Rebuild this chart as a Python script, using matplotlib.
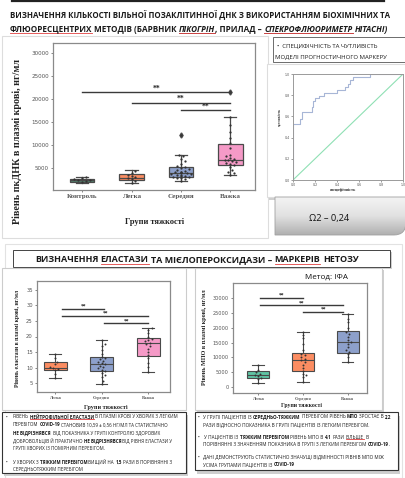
import numpy as np
import matplotlib
matplotlib.use("Agg")
import matplotlib.pyplot as plt
from matplotlib.patches import Rectangle, PathPatch
from matplotlib.path import Path
from matplotlib.colors import LinearSegmentedColormap

# ---------------- data ----------------
dna_groups = ["Контроль", "Легка", "Середня", "Важка"]
dna_q1 = [2100, 2400, 3200, 5800]
dna_med = [2400, 3000, 4000, 6900]
dna_q3 = [2700, 3800, 5300, 10300]
dna_lo = [1900, 1700, 2200, 3600]
dna_hi = [3100, 4600, 8000, 16200]
dna_fliers = [[], [], [12200], [21500]]
dna_points = [
    [1950, 2200, 2350, 2450, 2600, 2800, 3050],
    [1750, 2300, 2600, 2900, 3100, 3300, 3600, 4000, 4500],
    [2300, 2600, 2800, 3000, 3100, 3200, 3300, 3400, 3500, 3600, 3700, 3800, 3900, 4000,
     4100, 4200, 4300, 4500, 4700, 4900, 5100, 5300, 5600, 6000, 6500, 7000, 7600, 8000, 12200],
    [3600, 3900, 4200, 4600, 5200, 5700, 5900, 6100, 6300, 6500, 6700, 6900, 7100, 7300,
     7600, 8000, 9500, 10500, 11500, 13000, 14500, 16200, 21500],
]
dna_sig = [(0, 3, 21500), (1, 3, 19300), (2, 3, 17600)]
dna_yticks = [5000, 10000, 15000, 20000, 25000, 30000]

roc_fpr = [0, 0, 0.06, 0.06, 0.08, 0.08, 0.17, 0.17, 0.18, 0.18, 0.20, 0.20, 0.24, 0.24, 0.28,
           0.28, 0.40, 0.40, 0.47, 0.47, 0.50, 0.50, 0.52, 0.52, 0.55, 0.55, 0.70, 0.70, 1.0]
roc_tpr = [0, 0.53, 0.53, 0.58, 0.58, 0.64, 0.64, 0.69, 0.69, 0.75, 0.75, 0.77, 0.77, 0.79, 0.79,
           0.82, 0.82, 0.85, 0.85, 0.88, 0.88, 0.91, 0.91, 0.94, 0.94, 0.97, 0.97, 1.0, 1.0]
roc_ticks = [0.0, 0.2, 0.4, 0.6, 0.8, 1.0]

sev_groups = ["Легка", "Середня", "Важка"]
ela_q1 = [9.3, 8.9, 13.8]
ela_med = [10.0, 11.2, 17.9]
ela_q3 = [11.8, 13.3, 19.4]
ela_lo = [6.5, 4.6, 8.5]
ela_hi = [14.4, 19.0, 22.6]
ela_fliers = [[], [], []]
ela_points = [
    [6.5, 8.0, 9.2, 9.6, 10.0, 10.3, 11.0, 11.8, 13.0, 14.2],
    [4.6, 5.5, 6.8, 7.5, 8.2, 8.9, 9.3, 9.8, 10.2, 10.6, 11.0, 11.4, 11.8, 12.2, 12.6, 13.0,
     13.5, 14.5, 15.5, 16.8, 17.5, 19.0],
    [8.5, 10.2, 11.5, 13.0, 14.0, 15.0, 16.0, 16.8, 17.5, 17.9, 18.4, 18.9, 19.3, 20.0, 21.0,
     22.0, 22.6],
]
ela_sig = [(0.15, 1.05, 28.9), (0.15, 2.0, 26.6), (1.05, 2.0, 24.3)]
ela_yticks = [5, 10, 15, 20, 25, 30, 35]

mpo_q1 = [3100, 5500, 11600]
mpo_med = [4000, 9000, 15200]
mpo_q3 = [5500, 11500, 18800]
mpo_lo = [1300, 1600, 8300]
mpo_hi = [7400, 18500, 24600]
mpo_fliers = [[], [], []]
mpo_points = [
    [1300, 2600, 3200, 3600, 4000, 4400, 5000, 5800, 7300],
    [1600, 3500, 4000, 4500, 5500, 6500, 7500, 8300, 9000, 9600, 10200, 10800, 11300, 12500,
     14500, 16500, 17500, 18500],
    [8300, 10000, 11000, 11800, 12500, 13500, 14500, 15200, 16000, 17000, 17800, 18500, 20000,
     22000, 23000, 24600],
]
mpo_sig = [(0.05, 1.0, 30000), (0.05, 1.9, 27600), (1.0, 1.9, 25400)]
mpo_yticks = [0, 5000, 10000, 15000, 20000, 25000, 30000]

# ---------------- texts ----------------
title1 = [("ВИЗНАЧЕННЯ КІЛЬКОСТІ ВІЛЬНОЇ ПОЗАКЛІТИННОЇ ДНК З ВИКОРИСТАННЯМ БІОХІМІЧНИХ ТА", "b")]
title2 = [("ФЛЮОРЕСЦЕНТРИХ", "br"), (" МЕТОДІВ (БАРВНИК ", "b"), ("ПІКОГРІН", "biur"),
          (", ПРИЛАД – ", "b"), ("СПЕКРОФЛЮОРИМЕТР", "biur"), (" HITACHI)", "bi")]
header2 = [("ВИЗНАЧЕННЯ ", "b"), ("ЕЛАСТАЗИ", "br"), (" ТА МІЄЛОПЕРОКСИДАЗИ – ", "b"),
           ("МАРКЕРІВ", "br"), (" НЕТОЗУ", "b")]
spec1 = [("•  СПЕЦИФІЧНІСТЬ ТА ЧУТЛИВІСТЬ", "")]
spec2 = [("МОДЕЛІ ПРОГНОСТИЧНОГО МАРКЕРУ", "")]
omega_text = "Ω2 – 0,24"
method_text = "Метод: ІФА"

left_lines = [
    [("РІВЕНЬ ", ""), ("НЕЙТРОФІЛЬНОЇ ЕЛАСТАЗИ", "br"), (" В ПЛАЗМІ КРОВІ У ХВОРИХ З ЛЕГКИМ", "")],
    [("ПЕРЕБІГОМ ", ""), ("COVID-19", "b"), (" СТАНОВИВ 10,59 ± 0,56 НГ/МЛ ТА СТАТИСТИЧНО", "")],
    [("НЕ ВІДРІЗНЯВСЯ", "b"), ("  ВІД ПОКАЗНИКА У ГРУПІ КОНТРОЛЮ ЗДОРОВИХ", "")],
    [("ДОБРОВОЛЬЦІВ Й ПРАКТИЧНО ", ""), ("НЕ ВІДРІЗНЯВСЯ", "b"), (" ВІД РІВНЯ ЕЛАСТАЗИ У", "")],
    [("ГРУПІ ХВОРИХ ІЗ ПОМІРНИМ ПЕРЕБІГОМ.", "")],
    [("У ХВОРИХ З ", ""), ("ТЯЖКИМ ПЕРЕБІГОМ", "b"), (" ВИЩИЙ НА ", ""), ("1,5", "b"),
     (" РАЗИ В ПОРІВНЯННІ З", "")],
    [("СЕРЕДНЬОТЯЖКИМ ПЕРЕБІГОМ", "")],
]
left_y = [417, 425, 433, 441, 449, 462, 469.5]
left_bullets = [0, 5]

right_lines = [
    [("У ГРУПІ ПАЦІЄНТІВ ІЗ ", ""), ("СЕРЕДНЬО-ТЯЖКИМ", "b"), (" ПЕРЕБІГОМ РІВЕНЬ ", ""), ("МПО", "b"),
     (" ЗРОСТАЄ В ", ""), ("2,2", "b")],
    [("РАЗИ ВІДНОСНО ПОКАЗНИКА В ГРУПІ ПАЦІЄНТІВ ІЗ ЛЕГКИМ ПЕРЕБІГОМ.", "")],
    [(" У ПАЦІЄНТІВ ІЗ ", ""), ("ТЯЖКИМ ПЕРЕБІГОМ", "b"), (" РІВЕНЬ МПО В ", ""), ("4,1", "b"),
     (" РАЗИ ", ""), ("БІЛЬШЕ", "r"), (" В", "")],
    [("ПОРІВНЯННІ З ЗНАЧЕННЯМ ПОКАЗНИКА В ГРУПІ З ЛЕГКИМ ПЕРЕБІГОМ ", ""), ("COVID-19", "b"), (".", "")],
    [("ДАНІ ДЕМОНСТРУЮТЬ СТАТИСТИЧНО ЗНАЧУЩІ ВІДМІННОСТІ РІВНІВ МПО МІЖ", "")],
    [("УСІМА ГРУПАМИ ПАЦІЄНТІВ ІЗ ", ""), ("COVID-19", "b")],
]
right_y = [417, 425.5, 437.5, 445, 457.5, 465]
right_bullets = [0, 2, 4]

# ---------------- style ----------------
dna_colors = ["#52806c", "#fc8d62", "#8da0cb", "#f59ac7"]
ela_colors = ["#fc8d62", "#8da0cb", "#f59ac7"]
mpo_colors = ["#5fc3a3", "#fc8d62", "#8da0cb"]
EDGE = "#4a4a4a"
SANS = ["Open Sans", "DejaVu Sans"]
SERIF = ["Liberation Serif", "DejaVu Serif"]
TXT = "#1a1a1a"

W, H = 406, 478
fig = plt.figure(figsize=(W / 100, H / 100), dpi=100)
fig.patch.set_facecolor("white")
R = fig.canvas.get_renderer()


def rect(x0, y0, x1, y1):
    return [x0 / W, 1 - y1 / H, (x1 - x0) / W, (y1 - y0) / H]


bg = fig.add_axes([0, 0, 1, 1])
bg.set_zorder(-5)
fg = fig.add_axes([0, 0, 1, 1])
fg.set_zorder(10)
for a in (bg, fg):
    a.set_xlim(0, W)
    a.set_ylim(H, 0)
    a.axis("off")


def _w(txt, size, weight="normal", style="normal", family=SANS):
    a = fg.text(0, 0, "|" + txt + "|", fontsize=size, fontweight=weight, fontstyle=style, family=family)
    b = fg.text(0, 0, "||", fontsize=size, fontweight=weight, fontstyle=style, family=family)
    w = a.get_window_extent(R).width - b.get_window_extent(R).width
    a.remove()
    b.remove()
    return w


def _props(f):
    return ("bold" if "b" in f else "normal", "italic" if "i" in f else "normal")


def runs_width(runs, size, family=SANS):
    return sum(_w(t, size, *_props(f), family=family) for t, f in runs)


def fit(runs, target, family=SANS):
    return 10 * target / runs_width(runs, 10, family)


def draw_runs(x, y, runs, size, family=SANS, color=TXT, va="baseline"):
    for t, f in runs:
        wt, st = _props(f)
        core = t.strip(" ")
        if not core:
            x += _w(t, size, wt, st, family)
            continue
        lead = len(t) - len(t.lstrip(" "))
        trail = len(t) - len(t.rstrip(" "))
        if lead:
            x += _w(" " * lead, size, wt, st, family)
        fg.text(x, y, core, fontsize=size, fontweight=wt, fontstyle=st, family=family,
                color=color, ha="left", va=va)
        cw = _w(core, size, wt, st, family)
        if "u" in f:
            fg.plot([x, x + cw], [y + 1.0, y + 1.0], color=color, lw=0.5)
        if "r" in f:
            fg.plot([x, x + cw], [y + 1.8, y + 1.8], color="#e04040", lw=0.6)
        x += cw
        if trail:
            x += _w(" " * trail, size, wt, st, family)
    return x


def box(x0, y0, x1, y1, ec="#cccccc", fc="white", lw=0.8, shadow=None, z=1):
    if shadow is not None:
        bg.add_patch(Rectangle((x0 + shadow[0], y0 + shadow[1]), x1 - x0, y1 - y0,
                               fc="#cfcfcf", ec="none", zorder=z))
    bg.add_patch(Rectangle((x0, y0), x1 - x0, y1 - y0, fc=fc, ec=ec, lw=lw, zorder=z + 0.1))


def swarm(ax, pos, vals, d=2.3, maxw=12):
    t = ax.transData
    p0 = t.transform((0, 0))
    p1 = t.transform((1, 1))
    sx, sy = p1[0] - p0[0], p1[1] - p0[1]
    vals = np.asarray(vals, float)
    xs = np.zeros(len(vals))
    placed = []
    for i in np.argsort(vals):
        ypx = vals[i] * sy
        best = None
        for k in range(80):
            off = ((k + 1) // 2) * (1 if k % 2 else -1) * d * 0.6
            if abs(off) > maxw:
                break
            if all((off - px) ** 2 + (ypx - py) ** 2 >= d * d for px, py in placed):
                best = off
                break
        if best is None:
            best = 0.0
        placed.append((best, ypx))
        xs[i] = pos + best / sx
    return xs


def box_chart(r, groups, q1, med, q3, lo, hi, fliers, points, sig, colors, xlim, ylim, yticks,
              cat_fs, y_fs, sig_fs, lw=0.8, msz=2.2, d=2.3, maxw=10):
    ax = fig.add_axes(rect(*r))
    stats = [dict(q1=a, med=m, q3=b, whislo=l, whishi=h, fliers=f, label=g)
             for a, m, b, l, h, f, g in zip(q1, med, q3, lo, hi, fliers, groups)]
    bp = ax.bxp(stats, positions=np.arange(len(groups)), widths=0.5, capwidths=0.25,
                patch_artist=True, showfliers=True,
                boxprops=dict(edgecolor=EDGE, linewidth=lw),
                medianprops=dict(color=EDGE, linewidth=lw),
                whiskerprops=dict(color=EDGE, linewidth=lw),
                capprops=dict(color=EDGE, linewidth=lw),
                flierprops=dict(marker="d", markersize=2.6, markerfacecolor=EDGE, markeredgecolor=EDGE))
    for p, c in zip(bp["boxes"], colors):
        p.set_facecolor(c)
    ax.set_xlim(*xlim)
    ax.set_ylim(*ylim)
    for i, vals in enumerate(points):
        ax.scatter(swarm(ax, i, vals, d, maxw), vals, s=msz, color="#333333", linewidths=0, zorder=4)
    for a, b, y in sig:
        ax.plot([a, b], [y, y], color="#3a3a3a", lw=1.0, zorder=5)
        ax.text((a + b) / 2, y, "**", ha="center", va="bottom", fontsize=sig_fs,
                fontweight="bold", family=SERIF, color="#222222")
    ax.set_xticks(np.arange(len(groups)))
    ax.set_xticklabels(groups, fontsize=cat_fs, fontweight="bold", family=SERIF, color="#222222")
    ax.set_yticks(yticks)
    ax.set_yticklabels([str(v) for v in yticks], fontsize=y_fs, family="DejaVu Sans", color="#333333")
    ax.tick_params(length=1.5, width=0.5, pad=1.5, colors="#555555")
    for s in ax.spines.values():
        s.set_color("#8a8a8a")
        s.set_linewidth(0.9)
    return ax


# ---------------- background panels ----------------
fg.plot([12, 384], [0.8, 0.8], color="#222222", lw=1.6)
box(2, 36, 268, 238, ec="#dddddd")
box(273, 37, 406, 62, ec="#555555", lw=0.6)
box(267, 64, 406, 197, ec="#dddddd", shadow=(-3, 3))
# Omega box with gradient (square left, rounded bottom-right corner)
verts = [(275, 197), (406, 197), (406, 222), (406, 235), (394, 235), (275, 235), (275, 197)]
codes = [Path.MOVETO, Path.LINETO, Path.LINETO, Path.CURVE3, Path.CURVE3, Path.LINETO, Path.CLOSEPOLY]
om = PathPatch(Path(verts, codes), fc="none", ec="#a0a0a0", lw=0.6, zorder=3)
bg.add_patch(om)
grad = np.linspace(0, 1, 100)[:, None]
cm = LinearSegmentedColormap.from_list("g", ["#f4f4f4", "#e2e2e2", "#b0b0b0"])
im = bg.imshow(grad, extent=[275, 406, 235, 197], aspect="auto", cmap=cm, zorder=2)
im.set_clip_path(om)
bg.set_xlim(0, W)
bg.set_ylim(H, 0)

box(5, 244, 402, 478, ec="#e2e2e2")
box(13, 250, 390, 267, ec="#444444", lw=0.7, shadow=(2, 2), z=2)
box(2, 268, 186, 410, ec="#cccccc", z=2)
box(195, 268, 382, 410, ec="#cccccc", shadow=(2, 2), z=2)
box(2, 412, 186, 473, ec="#333333", lw=0.8, shadow=(2, 3), z=2)
box(195, 412, 398, 470, ec="#333333", lw=0.8, shadow=(2, 4), z=2)

# ---------------- titles ----------------
s1 = fit(title1, 378)
draw_runs(10, 18.3, title1, s1)
s2 = fit(title2, 377)
draw_runs(10, 31.5, title2, s2)
sh = fit(header2, 328)
draw_runs(35, 262.5, header2, sh)
ss = fit(spec2, 112)
draw_runs(277, 46.5, spec1, ss, va="center")
draw_runs(275, 57, spec2, ss, va="center")

# ---------------- main DNA chart ----------------
box_chart((53, 43, 255, 190), dna_groups, dna_q1, dna_med, dna_q3, dna_lo, dna_hi, dna_fliers,
          dna_points, dna_sig, dna_colors, (-0.59, 3.5), (283, 32240), dna_yticks,
          cat_fs=5.0, y_fs=4.1, sig_fs=5.5, lw=0.9, msz=2.6, d=3.2, maxw=11)
lab = "Рівень пкДНК в плазмі крові, нг/мл"
fs = 10 * 165 / _w(lab, 10, "bold", family=SERIF)
fg.text(17, 142, lab, rotation=90, ha="center", va="center", fontsize=fs, fontweight="bold",
        family=SERIF, color="#222222")
lab = "Групи тяжкості"
fs = 10 * 59 / _w(lab, 10, "bold", family=SERIF)
fg.text(155, 222, lab, ha="center", va="center", fontsize=fs, fontweight="bold", family=SERIF,
        color="#222222")

# ---------------- ROC ----------------
rax = fig.add_axes(rect(293, 74, 403, 180))
rax.plot(roc_fpr, roc_tpr, color="#a7b6d6", lw=0.8)
rax.plot([0, 1], [0, 1], color="#8fe0b4", lw=0.8)
rax.set_xlim(0, 1)
rax.set_ylim(0, 1)
rax.set_xticks(roc_ticks)
rax.set_yticks(roc_ticks)
rax.set_xticklabels([f"{v:.1f}" for v in roc_ticks], fontsize=2.3, family="DejaVu Sans")
rax.set_yticklabels([f"{v:.1f}" for v in roc_ticks], fontsize=2.3, family="DejaVu Sans")
rax.tick_params(length=1.2, width=0.4, pad=1, colors="#555555")
for s in rax.spines.values():
    s.set_color("#9a9a9a")
    s.set_linewidth(0.7)
lab = "чутливість"
fs = 10 * 18 / _w(lab, 10, "bold", family=SERIF)
fg.text(280, 117, lab, rotation=90, ha="center", va="center", fontsize=fs, fontweight="bold",
        family=SERIF, color="#333333")
lab = "специфічність"
fs = 10 * 27 / _w(lab, 10, "bold", family=SERIF)
fg.text(343, 190.5, lab, ha="center", va="center", fontsize=fs, fontweight="bold", family=SERIF,
        color="#333333")
fs = 10 * 40 / _w(omega_text, 10)
fg.text(329, 218, omega_text, ha="center", va="center", fontsize=fs, family=SANS, color="#111111")

# ---------------- elastase chart ----------------
box_chart((37, 281, 170, 392), sev_groups, ela_q1, ela_med, ela_q3, ela_lo, ela_hi, ela_fliers,
          ela_points, ela_sig, ela_colors, (-0.39, 2.47), (2.1, 37.9), ela_yticks,
          cat_fs=3.2, y_fs=3.8, sig_fs=4.0, lw=0.8, msz=2.0, d=2.8, maxw=9)
lab = "Рівень еластази в плазмі крові, нг/мл"
fs = 10 * 97 / _w(lab, 10, "bold", family=SERIF)
fg.text(18, 338, lab, rotation=90, ha="center", va="center", fontsize=fs, fontweight="bold",
        family=SERIF, color="#222222")
lab = "Групи тяжкості"
fs = 10 * 43 / _w(lab, 10, "bold", family=SERIF)
fg.text(106, 407.5, lab, ha="center", va="center", fontsize=fs, fontweight="bold", family=SERIF,
        color="#222222")

# ---------------- MPO chart ----------------
box_chart((233, 283, 367, 393), sev_groups, mpo_q1, mpo_med, mpo_q3, mpo_lo, mpo_hi, mpo_fliers,
          mpo_points, mpo_sig, mpo_colors, (-0.56, 2.43), (-2000, 35050), mpo_yticks,
          cat_fs=3.2, y_fs=3.6, sig_fs=4.0, lw=0.8, msz=2.0, d=2.8, maxw=9)
lab = "Рівень МПО в плазмі крові, нг/мл"
fs = 10 * 95 / _w(lab, 10, "bold", family=SERIF)
fg.text(205, 337, lab, rotation=90, ha="center", va="center", fontsize=fs, fontweight="bold",
        family=SERIF, color="#222222")
lab = "Групи тяжкості"
fs = 10 * 41 / _w(lab, 10, "bold", family=SERIF)
fg.text(302, 405.5, lab, ha="center", va="center", fontsize=fs, fontweight="bold", family=SERIF,
        color="#222222")
fs = 10 * 43 / _w(method_text, 10)
fg.text(305, 277, method_text, ha="left", va="center", fontsize=fs, family=SANS, color="#111111")

# ---------------- bottom paragraphs ----------------
sl = fit(left_lines[0], 165)
for i, (ln, y) in enumerate(zip(left_lines, left_y)):
    if i in left_bullets:
        fg.text(5.5, y, "•", fontsize=sl, ha="left", va="center", family=SANS, color=TXT)
    draw_runs(13, y, ln, sl, va="center")
sr = fit(right_lines[0], 188)
for i, (ln, y) in enumerate(zip(right_lines, right_y)):
    if i in right_bullets:
        fg.text(198, y, "•", fontsize=sr, ha="left", va="center", family=SANS, color=TXT)
    draw_runs(203, y, ln, sr, va="center")

fig.savefig("out.png", dpi=100, facecolor="white")
